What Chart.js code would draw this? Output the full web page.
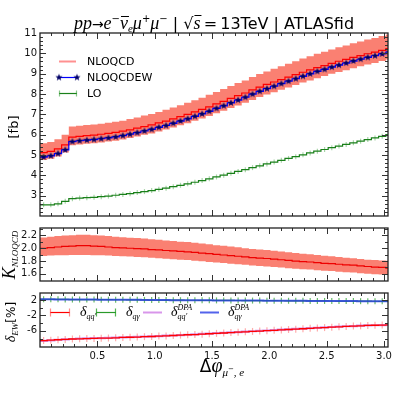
<!DOCTYPE html>
<html>
<head>
<meta charset="utf-8">
<script src="https://cdn.jsdelivr.net/npm/chart.js@4.4.0/dist/chart.umd.min.js"></script>
<style>
html, body { margin: 0; padding: 0; background: #fff; }
#wrap { position: relative; width: 399px; height: 399px; }
canvas { position: absolute; left: 0; }
</style>
</head>
<body>
<div id="wrap">
  <canvas id="top" width="399" height="225" style="top:0px"></canvas>
  <canvas id="mid" width="399" height="71" style="top:219px"></canvas>
  <canvas id="bot" width="399" height="115" style="top:284px"></canvas>
</div>
<script>
// --- data (50 bins in delta phi, 0..pi) ---
const nBins = 50;
const lo = [2.55, 2.55, 2.60, 2.72, 2.85, 2.88, 2.90, 2.92, 2.95, 2.98,
            3.02, 3.06, 3.10, 3.15, 3.20, 3.25, 3.31, 3.37, 3.44, 3.51,
            3.58, 3.66, 3.74, 3.83, 3.92, 4.01, 4.10, 4.19, 4.28, 4.38,
            4.47, 4.56, 4.65, 4.74, 4.83, 4.92, 5.01, 5.10, 5.19, 5.27,
            5.36, 5.44, 5.52, 5.60, 5.68, 5.76, 5.84, 5.92, 6.00, 6.07];
const nloQcd = [5.12, 5.18, 5.30, 5.50, 5.88, 5.92, 5.95, 5.98, 6.02, 6.06,
                6.11, 6.17, 6.24, 6.32, 6.40, 6.48, 6.58, 6.67, 6.78, 6.89,
                7.00, 7.12, 7.24, 7.37, 7.51, 7.64, 7.78, 7.92, 8.05, 8.20,
                8.34, 8.47, 8.59, 8.71, 8.83, 8.95, 9.07, 9.19, 9.30, 9.40,
                9.51, 9.61, 9.70, 9.80, 9.89, 9.98, 10.06, 10.15, 10.23, 10.30];
const nloQcdHi = [5.58, 5.64, 5.77, 5.99, 6.40, 6.44, 6.47, 6.50, 6.54, 6.58,
                  6.63, 6.69, 6.77, 6.85, 6.94, 7.02, 7.12, 7.22, 7.34, 7.45,
                  7.57, 7.69, 7.82, 7.96, 8.10, 8.24, 8.39, 8.54, 8.67, 8.83,
                  8.98, 9.11, 9.24, 9.36, 9.49, 9.61, 9.74, 9.86, 9.98, 10.08,
                  10.19, 10.30, 10.39, 10.49, 10.58, 10.68, 10.76, 10.85, 10.93, 11.00];
const nloQcdLo = [4.76, 4.82, 4.93, 5.12, 5.48, 5.52, 5.55, 5.58, 5.62, 5.66,
                  5.70, 5.76, 5.83, 5.91, 5.99, 6.06, 6.16, 6.25, 6.35, 6.46,
                  6.56, 6.68, 6.79, 6.92, 7.05, 7.18, 7.31, 7.44, 7.57, 7.71,
                  7.85, 7.97, 8.09, 8.21, 8.32, 8.44, 8.56, 8.67, 8.78, 8.88,
                  8.99, 9.08, 9.17, 9.27, 9.36, 9.45, 9.53, 9.62, 9.70, 9.76];
const nloQcdEw = [4.90, 4.96, 5.07, 5.25, 5.66, 5.70, 5.73, 5.76, 5.80, 5.84,
                  5.89, 5.95, 6.02, 6.10, 6.18, 6.26, 6.36, 6.45, 6.56, 6.67,
                  6.78, 6.90, 7.02, 7.15, 7.29, 7.42, 7.56, 7.70, 7.84, 7.99,
                  8.13, 8.26, 8.38, 8.51, 8.63, 8.75, 8.87, 8.99, 9.11, 9.21,
                  9.32, 9.42, 9.52, 9.62, 9.71, 9.80, 9.88, 9.97, 10.06, 10.13];

const kFac = [2.00, 2.01, 2.02, 2.03, 2.035, 2.04, 2.04, 2.035, 2.03, 2.02,
              2.01, 2.005, 2.00, 1.995, 1.99, 1.98, 1.975, 1.965, 1.96, 1.95,
              1.945, 1.935, 1.925, 1.915, 1.905, 1.895, 1.885, 1.875, 1.865, 1.855,
              1.845, 1.84, 1.83, 1.82, 1.81, 1.80, 1.79, 1.785, 1.775, 1.765,
              1.76, 1.75, 1.74, 1.735, 1.725, 1.715, 1.705, 1.70, 1.69, 1.68];
const kFacHi = [2.17, 2.18, 2.19, 2.20, 2.205, 2.21, 2.21, 2.205, 2.20, 2.19,
                2.18, 2.173, 2.166, 2.159, 2.152, 2.141, 2.134, 2.122, 2.115, 2.103,
                2.097, 2.085, 2.073, 2.061, 2.049, 2.038, 2.026, 2.014, 2.002, 1.99,
                1.979, 1.972, 1.96, 1.948, 1.936, 1.925, 1.913, 1.906, 1.894, 1.882,
                1.876, 1.864, 1.852, 1.845, 1.833, 1.822, 1.815, 1.81, 1.805, 1.80];
const kFacLo = [1.88, 1.885, 1.89, 1.89, 1.895, 1.895, 1.895, 1.89, 1.89, 1.885,
                1.88, 1.875, 1.87, 1.865, 1.86, 1.85, 1.845, 1.835, 1.83, 1.82,
                1.815, 1.805, 1.795, 1.786, 1.777, 1.768, 1.759, 1.75, 1.741, 1.732,
                1.723, 1.716, 1.707, 1.698, 1.689, 1.68, 1.671, 1.666, 1.657, 1.648,
                1.643, 1.634, 1.625, 1.62, 1.611, 1.602, 1.595, 1.59, 1.585, 1.58];

// EW corrections in percent
const dQQ = [-8.5, -8.4, -8.3, -8.2, -8.1, -8.05, -8.0, -7.95, -7.9, -7.85,
             -7.8, -7.7, -7.65, -7.6, -7.5, -7.45, -7.35, -7.3, -7.2, -7.1,
             -7.0, -6.95, -6.85, -6.75, -6.65, -6.55, -6.45, -6.35, -6.25, -6.15,
             -6.05, -5.95, -5.85, -5.75, -5.65, -5.55, -5.45, -5.35, -5.25, -5.15,
             -5.05, -4.95, -4.85, -4.75, -4.7, -4.6, -4.55, -4.5, -4.45, -4.4];
const dQG = [2.15, 2.15, 2.15, 2.12, 2.1, 2.1, 2.1, 2.08, 2.07, 2.06,
             2.05, 2.04, 2.03, 2.02, 2.0, 1.96, 1.95, 1.95, 1.94, 1.93,
             1.92, 1.91, 1.9, 1.89, 1.88, 1.87, 1.86, 1.85, 1.84, 1.83,
             1.82, 1.81, 1.8, 1.79, 1.78, 1.77, 1.76, 1.75, 1.74, 1.73,
             1.72, 1.71, 1.7, 1.69, 1.68, 1.67, 1.66, 1.65, 1.64, 1.63];
const dQQdpa = [-8.6, -8.45, -8.3, -8.2, -8.1, -8.0, -7.95, -7.9, -7.85, -7.8,
                -7.75, -7.7, -7.6, -7.55, -7.5, -7.4, -7.35, -7.25, -7.2, -7.1,
                -7.0, -6.9, -6.8, -6.7, -6.6, -6.5, -6.4, -6.3, -6.2, -6.1,
                -6.0, -5.9, -5.8, -5.7, -5.6, -5.5, -5.4, -5.3, -5.2, -5.1,
                -5.0, -4.9, -4.8, -4.75, -4.65, -4.6, -4.55, -4.5, -4.45, -4.4];
const dQGdpa = [2.15, 2.15, 2.14, 2.12, 2.1, 2.1, 2.09, 2.08, 2.07, 2.06,
                2.05, 2.04, 2.03, 2.02, 2.0, 1.96, 1.95, 1.95, 1.94, 1.93,
                1.92, 1.91, 1.9, 1.89, 1.88, 1.87, 1.86, 1.85, 1.84, 1.83,
                1.82, 1.81, 1.8, 1.79, 1.78, 1.77, 1.76, 1.75, 1.74, 1.73,
                1.72, 1.71, 1.7, 1.69, 1.68, 1.67, 1.66, 1.65, 1.64, 1.63];

const xTicks = [0.5, 1.0, 1.5, 2.0, 2.5, 3.0];
const yTicksTop = [3, 4, 5, 6, 7, 8, 9, 10, 11];
const yTicksMid = [1.6, 1.8, 2.0, 2.2];
const yTicksBot = [2, -2, -6];

// --- helpers ---
const binW = Math.PI / nBins;
const edges = Array.from({ length: nBins + 1 }, (_, i) => i * binW);
const steps = vals => vals.map((v, i) => ({ x: edges[i], y: v })).concat([{ x: edges[nBins], y: vals[nBins - 1] }]);
const mids = vals => vals.map((v, i) => ({ x: (edges[i] + edges[i + 1]) / 2, y: v }));
const range = (a, b, s) => { const r = []; for (let v = a; v <= b + 1e-9; v += s) r.push(+v.toFixed(4)); return r; };

const SANS = n => n + 'px "DejaVu Sans"';
const ITAL = n => 'italic ' + n + 'px "Liberation Serif"';

function starImage(r, fill) {
  const c = document.createElement('canvas');
  const s = Math.ceil(r * 2 + 2);
  c.width = c.height = s;
  const g = c.getContext('2d');
  g.fillStyle = fill;
  g.beginPath();
  for (let i = 0; i < 10; i++) {
    const rr = i % 2 ? r * 0.42 : r;
    const a = -Math.PI / 2 + i * Math.PI / 5;
    g.lineTo(s / 2 + rr * Math.cos(a), s / 2 + rr * Math.sin(a));
  }
  g.closePath();
  g.fill();
  return c;
}
const star = starImage(3.8, '#000066');

// text made of pieces with different fonts / offsets
function seqWidth(ctx, parts) {
  let w = 0;
  parts.forEach(p => { ctx.font = p.f; const m = ctx.measureText(p.t).width; if (!p.stay) w += m; });
  return w;
}
function seqDraw(ctx, parts, x, y) {
  ctx.textAlign = 'left';
  ctx.textBaseline = 'alphabetic';
  parts.forEach(p => {
    ctx.font = p.f;
    const w = ctx.measureText(p.t).width;
    ctx.fillText(p.t, x, y + (p.dy || 0));
    if (p.bar) { ctx.fillRect(x + 1, y - p.bar, w, 1); }
    if (!p.stay) x += w;
  });
  return x;
}

// inward ticks + frame
const frame = {
  id: 'frame',
  afterDatasetsDraw(chart, args, o) {
    const { ctx, chartArea: a, scales: { x, y } } = chart;
    ctx.save();
    ctx.strokeStyle = '#333';
    ctx.lineWidth = 1;
    ctx.beginPath();
    const xt = (vals, len) => vals.forEach(v => {
      const px = Math.round(x.getPixelForValue(v)) + 0.5;
      if (px < a.left + 1 || px > a.right - 1) return;
      ctx.moveTo(px, a.top); ctx.lineTo(px, a.top + len);
      ctx.moveTo(px, a.bottom); ctx.lineTo(px, a.bottom - len);
    });
    const yt = (vals, len) => vals.forEach(v => {
      const py = Math.round(y.getPixelForValue(v)) + 0.5;
      if (py < a.top + 1 || py > a.bottom - 1) return;
      ctx.moveTo(a.left, py); ctx.lineTo(a.left + len, py);
      ctx.moveTo(a.right, py); ctx.lineTo(a.right - len, py);
    });
    xt(o.xMinor, 3); xt(o.xMajor, 6);
    yt(o.yMinor, 3); yt(o.yMajor, 6);
    ctx.stroke();
    ctx.lineWidth = 1.3;
    ctx.strokeStyle = '#222';
    ctx.strokeRect(a.left, a.top, a.right - a.left, a.bottom - a.top);
    ctx.restore();
  },
  afterDraw(chart, args, o) {
    if (o.extra) { chart.ctx.save(); o.extra(chart.ctx, chart); chart.ctx.restore(); }
  }
};

function opts(yMin, yMax, yTicks, fmt, showX, padding, extra, yMinor) {
  return {
    responsive: false,
    animation: false,
    layout: { padding },
    plugins: {
      legend: { display: false },
      tooltip: { enabled: false },
      frame: { xMajor: range(0, 3, 0.5), xMinor: range(0.1, 3.0, 0.1), yMajor: yTicks, yMinor, extra }
    },
    scales: {
      x: {
        type: 'linear', min: 0, max: 3.035, display: showX,
        grid: { display: false, drawTicks: false }, border: { display: false },
        afterBuildTicks: s => { s.ticks = xTicks.map(v => ({ value: v })); },
        afterFit: s => { if (showX) s.height = 52; },
        ticks: { color: '#111', font: { size: 10 }, padding: 3, callback: v => v.toFixed(1) }
      },
      y: {
        min: yMin, max: yMax,
        grid: { display: false, drawTicks: false }, border: { display: false },
        afterBuildTicks: s => { s.ticks = yTicks.map(v => ({ value: v })); },
        afterFit: s => { s.width = 40; },
        ticks: { color: '#111', font: { size: 10 }, padding: 3, callback: fmt }
      }
    }
  };
}

Chart.defaults.font.family = '"DejaVu Sans"';
Chart.register(frame);

const lineDs = (data, color, width, order) => ({
  data, borderColor: color, borderWidth: width, stepped: true, pointRadius: 0, fill: false, order
});
const tickDs = (data, color, r, order) => ({
  data, showLine: false, pointStyle: 'line', rotation: 90, pointRadius: r,
  pointBorderColor: color, pointBorderWidth: 1.2, order
});

// --- top panel ---
new Chart(document.getElementById('top'), {
  type: 'line',
  data: {
    datasets: [
      { data: steps(nloQcdLo), borderWidth: 0, pointRadius: 0, stepped: true, fill: false, order: 20 },
      { data: steps(nloQcdHi), borderWidth: 0, pointRadius: 0, stepped: true, fill: '-1',
        backgroundColor: '#fa8072', order: 19, clip: 0 },
      lineDs(steps(nloQcd), '#ff0000', 1.2, 5),
      tickDs(mids(lo), 'rgba(60,160,60,0.45)', 2.5, 6),
      lineDs(steps(lo), '#1a801a', 1.2, 4),
      lineDs(steps(nloQcdEw), '#0000ff', 1.2, 3),
      { data: mids(nloQcdEw), showLine: false, pointStyle: star, pointRadius: 4, order: 1 }
    ]
  },
  options: opts(2, 11, yTicksTop, v => String(v), false, { top: 33, right: 11, bottom: 0, left: 0 },
    (ctx) => {
      ctx.fillStyle = '#000';
      // title
      const title = [
        { t: 'pp', f: ITAL(18) }, { t: '→', f: SANS(14) }, { t: 'e', f: ITAL(18) },
        { t: '−', f: SANS(10), dy: -7 }, { t: 'ν', f: ITAL(18), bar: 13 }, { t: 'e', f: ITAL(11), dy: 3 },
        { t: 'μ', f: ITAL(18) }, { t: '+', f: SANS(10), dy: -7 }, { t: 'μ', f: ITAL(18) },
        { t: '−', f: SANS(10), dy: -7 }, { t: ' | ', f: SANS(16) }, { t: '√', f: SANS(16) },
        { t: 's', f: ITAL(18), bar: 14 }, { t: '\u2009=\u2009', f: SANS(16) }, { t: '13TeV | ATLASfid', f: SANS(16) }
      ];
      seqDraw(ctx, title, 214 - seqWidth(ctx, title) / 2, 29);
      // legend
      ctx.lineWidth = 2;
      ctx.strokeStyle = 'rgba(255,70,70,0.6)';
      ctx.beginPath(); ctx.moveTo(59, 61.5); ctx.lineTo(76, 61.5); ctx.stroke();
      ctx.lineWidth = 1.2;
      ctx.strokeStyle = '#0000ff';
      ctx.beginPath(); ctx.moveTo(59, 77.5); ctx.lineTo(77, 77.5); ctx.stroke();
      ctx.drawImage(star, 59 - star.width / 2, 77.5 - star.height / 2);
      ctx.drawImage(star, 77 - star.width / 2, 77.5 - star.height / 2);
      ctx.strokeStyle = '#1a801a';
      ctx.beginPath(); ctx.moveTo(59, 93.5); ctx.lineTo(77, 93.5); ctx.stroke();
      ctx.strokeStyle = 'rgba(60,160,60,0.6)';
      ctx.beginPath(); ctx.moveTo(59.5, 90.5); ctx.lineTo(59.5, 96.5); ctx.moveTo(76.5, 90.5); ctx.lineTo(76.5, 96.5); ctx.stroke();
      ctx.font = SANS(11);
      ctx.textBaseline = 'middle';
      ctx.fillText('NLOQCD', 87, 62);
      ctx.fillText('NLOQCDEW', 87, 78);
      ctx.fillText('LO', 87, 94);
      // y label
      ctx.translate(15, 127);
      ctx.rotate(-Math.PI / 2);
      ctx.font = SANS(13);
      ctx.textAlign = 'center';
      ctx.fillText('[fb]', 0, 0);
    }, range(2.2, 10.8, 0.2))
});

// --- ratio panel ---
new Chart(document.getElementById('mid'), {
  type: 'line',
  data: {
    datasets: [
      { data: steps(kFacLo), borderWidth: 0, pointRadius: 0, stepped: true, fill: false, order: 20 },
      { data: steps(kFacHi), borderWidth: 0, pointRadius: 0, stepped: true, fill: '-1',
        backgroundColor: '#fa8072', order: 19, clip: 0 },
      lineDs(steps(kFac), '#ee0000', 1.2, 5)
    ]
  },
  options: opts(1.488, 2.317, yTicksMid, v => v.toFixed(1), false, { top: 0, right: 11, bottom: 0, left: 0 },
    (ctx) => {
      ctx.fillStyle = '#000';
      const lab = [{ t: 'K', f: ITAL(18) }, { t: 'NLOQCD', f: ITAL(9), dy: 3 }];
      ctx.translate(15, 255 - 219);
      ctx.rotate(-Math.PI / 2);
      seqDraw(ctx, lab, -seqWidth(ctx, lab) / 2, 0);
    }, range(1.5, 2.3, 0.1))
});

// --- EW correction panel ---
new Chart(document.getElementById('bot'), {
  type: 'line',
  data: {
    datasets: [
      tickDs(mids(dQQ), 'rgba(255,90,90,0.5)', 3.5, 8),
      lineDs(steps(dQQdpa), 'rgba(190,80,220,0.6)', 2.2, 6),
      lineDs(steps(dQQ), '#ff0000', 1.3, 4),
      tickDs(mids(dQG), 'rgba(40,160,40,0.7)', 3, 7),
      lineDs(steps(dQG), '#2a9a2a', 1.2, 5),
      lineDs(steps(dQGdpa), 'rgba(40,60,230,0.8)', 2, 3)
    ]
  },
  options: opts(-10.17, 3.79, yTicksBot, v => String(v), true, { top: 0, right: 11, bottom: 0, left: 0 },
    (ctx) => {
      ctx.fillStyle = '#000';
      // legend row
      const y0 = 312.5 - 284;
      const errbar = (x1, x2, c, cap) => {
        ctx.lineWidth = 1.2; ctx.strokeStyle = c;
        ctx.beginPath(); ctx.moveTo(x1, y0); ctx.lineTo(x2, y0); ctx.stroke();
        ctx.strokeStyle = cap;
        ctx.beginPath(); ctx.moveTo(x1 + 0.5, y0 - 4); ctx.lineTo(x1 + 0.5, y0 + 4);
        ctx.moveTo(x2 - 0.5, y0 - 4); ctx.lineTo(x2 - 0.5, y0 + 4); ctx.stroke();
      };
      const plain = (x1, x2, c) => {
        ctx.lineWidth = 2; ctx.strokeStyle = c;
        ctx.beginPath(); ctx.moveTo(x1, y0); ctx.lineTo(x2, y0); ctx.stroke();
      };
      errbar(50, 70, '#ff0000', 'rgba(255,90,90,0.7)');
      errbar(96, 116, '#2a9a2a', 'rgba(40,160,40,0.8)');
      plain(143, 162, 'rgba(190,80,220,0.6)');
      plain(200, 219, 'rgba(40,60,230,0.8)');
      seqDraw(ctx, [{ t: 'δ', f: ITAL(14) }, { t: "qq'", f: ITAL(8), dy: 3 }], 80, y0 + 3);
      seqDraw(ctx, [{ t: 'δ', f: ITAL(14) }, { t: 'qγ', f: ITAL(8), dy: 3 }], 126, y0 + 3);
      seqDraw(ctx, [{ t: 'δ', f: ITAL(14) }, { t: "qq'", f: ITAL(8), dy: 3, stay: true }, { t: 'DPA', f: ITAL(8), dy: -6 }], 171, y0 + 3);
      seqDraw(ctx, [{ t: 'δ', f: ITAL(14) }, { t: 'qγ', f: ITAL(8), dy: 3, stay: true }, { t: 'DPA', f: ITAL(8), dy: -6 }], 228, y0 + 3);
      // x label
      const xl = [{ t: 'Δ', f: SANS(17) }, { t: 'φ', f: ITAL(20) }, { t: 'μ', f: ITAL(11), dy: 4 },
                  { t: '−', f: SANS(7), dy: -1 }, { t: ', e', f: ITAL(11), dy: 4 }];
      seqDraw(ctx, xl, 222 - seqWidth(ctx, xl) / 2, 372 - 284);
      // y label
      ctx.translate(15, 322 - 284);
      ctx.rotate(-Math.PI / 2);
      const yl = [{ t: 'δ', f: ITAL(14) }, { t: 'EW', f: ITAL(9), dy: 3 }, { t: '[%]', f: SANS(12) }];
      seqDraw(ctx, yl, -seqWidth(ctx, yl) / 2, 0);
    }, [0, -4, -8])
});
</script>
</body>
</html>
